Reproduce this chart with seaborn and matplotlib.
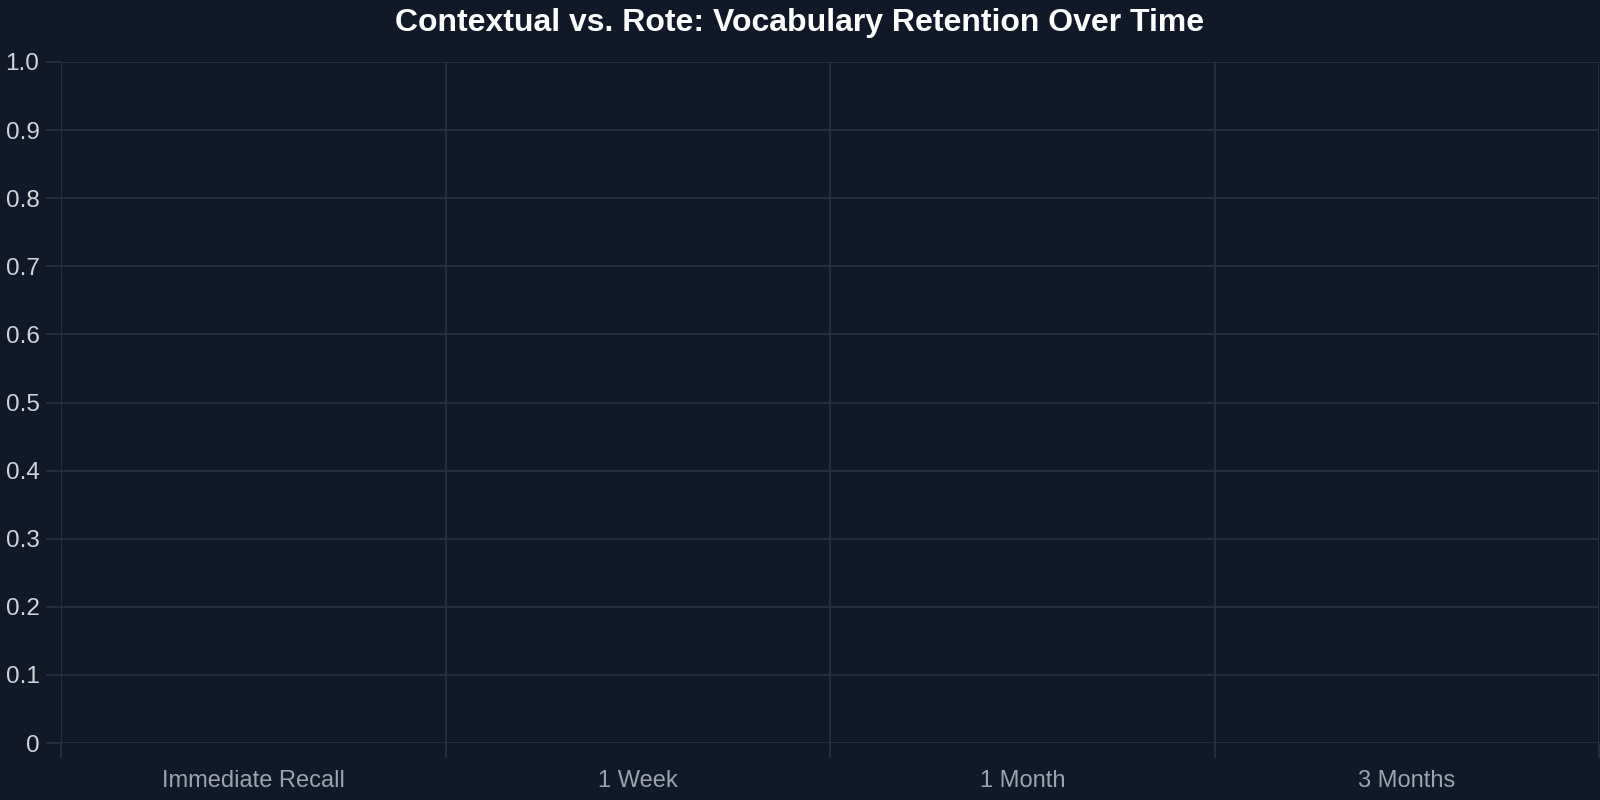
import numpy as np
import pandas as pd
import matplotlib
matplotlib.use("Agg")
import matplotlib.pyplot as plt
import seaborn as sns

# chart data: the reference draws no series, only the category frame
categories = ["Immediate Recall", "1 Week", "1 Month", "3 Months"]
series_names = ["Contextual", "Rote"]
contextual = [np.nan, np.nan, np.nan, np.nan]
rote = [np.nan, np.nan, np.nan, np.nan]
y_ticks = [0, 0.1, 0.2, 0.3, 0.4, 0.5, 0.6, 0.7, 0.8, 0.9, 1.0]
y_labels = ["0", "0.1", "0.2", "0.3", "0.4", "0.5", "0.6", "0.7", "0.8", "0.9", "1.0"]

BG = "#111827"
GRID = "#2a3140"

sns.set_theme(style="darkgrid")
plt.rcParams["font.family"] = ["Liberation Sans", "DejaVu Sans"]

df = pd.DataFrame({
    "interval": categories * 2,
    "pos": list(np.arange(len(categories)) + 0.5) * 2,
    "series": [series_names[0]] * 4 + [series_names[1]] * 4,
    "retention": contextual + rote,
})

fig = plt.figure(figsize=(16, 8), dpi=100, facecolor=BG)
ax = fig.add_axes([61 / 1600, 1 - 743 / 800, 1538 / 1600, 681 / 800])
ax.set_facecolor(BG)

sub = df.dropna(subset=["retention"])
if len(sub):
    sns.lineplot(data=sub, x="pos", y="retention", hue="series", ax=ax, legend=False)

ax.set_xlim(0, len(categories))
ax.set_ylim(0, 1)

# category boundaries carry the grid and tick marks, labels sit between them
ax.set_xticks(np.arange(len(categories) + 1))
ax.set_xticklabels([])
ax.set_xticks(np.arange(len(categories)) + 0.5, minor=True)
ax.set_xticklabels(categories, minor=True)
ax.set_yticks(y_ticks)
ax.set_yticklabels(y_labels)

ax.grid(True, which="major", color=GRID, linewidth=1.2)
ax.grid(False, which="minor")
ax.tick_params(axis="x", which="major", length=11, width=1.2, color=GRID, bottom=True)
ax.tick_params(axis="x", which="minor", length=0, labelsize=17, labelcolor="#9ca3af", pad=19.5)
ax.tick_params(axis="y", which="major", length=11, width=1.2, color=GRID, left=True,
               labelsize=17.5, labelcolor="#d1d5db", pad=4.5)
for s in ax.spines.values():
    s.set_visible(False)

ax.set_xlabel("")
ax.set_ylabel("")
fig.text(0.5, 1 - 22.5 / 800, "Contextual vs. Rote: Vocabulary Retention Over Time",
         ha="center", va="center", fontsize=23, fontweight="bold", color="white")

fig.savefig("out.png", dpi=100, facecolor=BG)
plt.close(fig)
